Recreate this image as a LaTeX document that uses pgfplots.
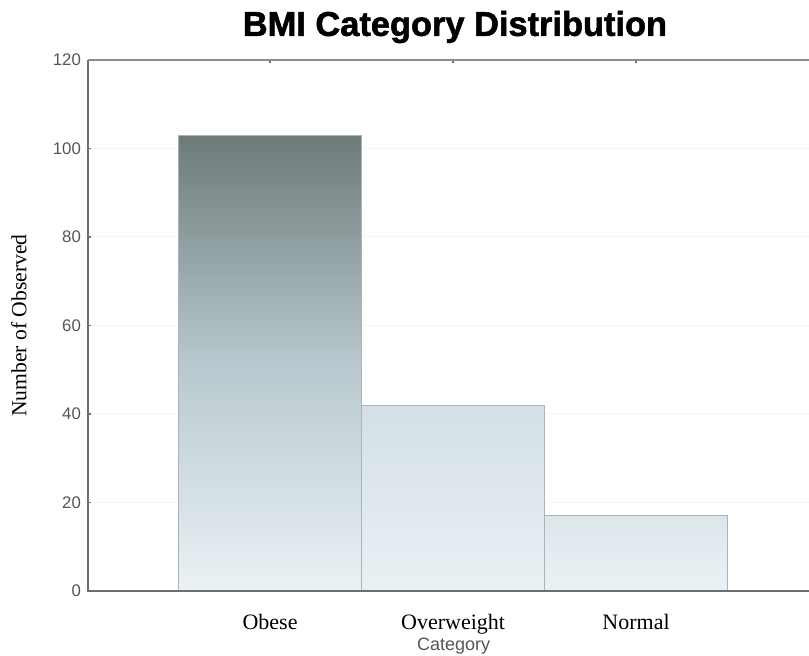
\documentclass[border=0pt]{standalone}
\usepackage{pgfplots}
\pgfplotsset{compat=1.18}
\usepackage{fontspec}
\setmainfont{Liberation Serif}
\newfontfamily\arialfont{Liberation Sans}
\newfontfamily\titlefont{Liberation Sans Bold}[FakeBold=1.6]
\definecolor{axisgray}{HTML}{6E6E6E}
\definecolor{tickgray}{HTML}{555555}
\definecolor{edgegray}{HTML}{A9B3B8}
\begin{document}
\begin{tikzpicture}
\useasboundingbox (-44pt,-32.5pt) rectangle (360.5pt,295.5pt);
\begin{axis}[
  at={(0,0)}, anchor=south west,
  scale only axis, width=360.5pt, height=265.5pt,
  xmin=-0.995, xmax=2.945, ymin=0, ymax=120,
  ytick={0,20,...,120},
  xtick={0,1,2},
  xticklabels={Obese,\raisebox{1.5pt}{Overweight},\raisebox{-2pt}{Normal}},
  x tick label style={font=\fontsize{11}{12}\selectfont, color=black, yshift=-8pt},
  y tick label style={font=\arialfont\fontsize{8.4}{10}\selectfont, color=tickgray},
  /pgf/number format/assume math mode=true,
  tick style={axisgray, line width=0.6pt},
  major tick length=1.5pt,
  tick align=inside,
  xtick pos=both, ytick pos=left,
  axis line style={draw=none},
  ymajorgrids, grid style={color=black!4, line width=0.5pt},
  clip=false,
]
\addplot[ybar, bar width=1, bar shift=0pt, draw=edgegray, line width=0.5pt,
  top color={rgb,255:red,108;green,122;blue,120}, bottom color={rgb,255:red,234;green,242;blue,245},
  middle color={rgb,255:red,184;green,200;blue,206}] coordinates {(0,103)};
\addplot[ybar, bar width=1, bar shift=0pt, draw=edgegray, line width=0.5pt,
  top color={rgb,255:red,212;green,224;blue,230}, bottom color={rgb,255:red,233;green,241;blue,244}] coordinates {(1,42)};
\addplot[ybar, bar width=1, bar shift=0pt, draw=edgegray, line width=0.5pt,
  top color={rgb,255:red,220;green,230;blue,235}, bottom color={rgb,255:red,234;green,242;blue,245}] coordinates {(2,17)};
\draw[axisgray, line width=1pt] (rel axis cs:0,1) -- (rel axis cs:0,0) -- (rel axis cs:1,0);
\draw[axisgray!80, line width=1pt] (rel axis cs:0,1) -- (rel axis cs:1,1);
\node[rotate=90, font=\fontsize{10.8}{12}\selectfont] at (axis description cs:-0.0957,0.5) {Number of Observed};
\node[font=\arialfont\fontsize{9}{10}\selectfont, color=tickgray] at (axis description cs:0.507,-0.104) {Category};
\node[font=\titlefont\fontsize{17.2}{19}\selectfont] at (axis description cs:0.509,1.062) {BMI Category Distribution};
\end{axis}
\end{tikzpicture}
\end{document}
